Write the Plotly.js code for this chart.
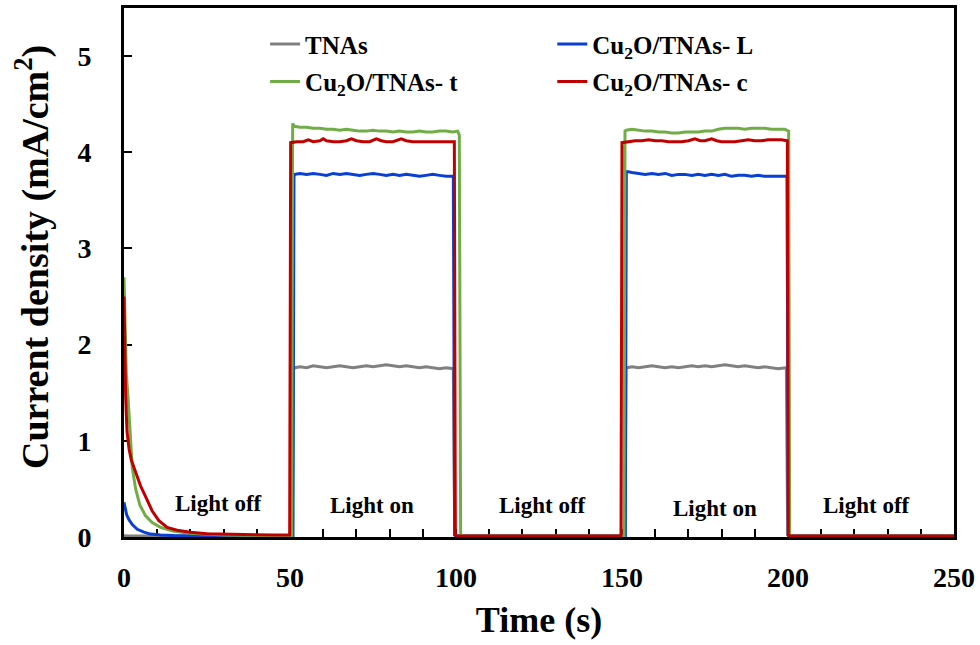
<!DOCTYPE html>
<html>
<head>
<meta charset="utf-8">
<script src="https://cdn.plot.ly/plotly-3.0.1.min.js"></script>
<style>html,body{margin:0;padding:0;background:#fff;}#chart{width:980px;height:645px;}</style>
</head>
<body>
<div id="chart"></div>
<script>
// ---- Data ----
const seriesNames = ["TNAs", "Cu<sub>2</sub>O/TNAs- L", "Cu<sub>2</sub>O/TNAs- t", "Cu<sub>2</sub>O/TNAs- c"];

const tnasT = [0, 0.5, 5, 20, 35, 50.7,
  51.0, 51.5, 53, 55, 57, 59, 61, 63, 65, 67, 69, 71, 73, 75, 77, 79, 81, 83, 85, 87, 89, 91, 93, 95, 97, 99.2,
  99.6, 100.0, 110, 125, 140, 150.9,
  151.2, 151.5, 153, 155, 157, 159, 161, 163, 165, 167, 169, 171, 173, 175, 177, 179, 181, 183, 185, 187, 189, 191, 193, 195, 197, 199.5,
  199.9, 200.3, 215, 235, 250];
const tnasY = [0.02, 0.01, 0.01, 0.01, 0.01, 0.01,
  1.74, 1.76, 1.77, 1.76, 1.78, 1.77, 1.76, 1.77, 1.78, 1.77, 1.76, 1.77, 1.78, 1.77, 1.78, 1.79, 1.78, 1.77, 1.78, 1.77, 1.76, 1.77, 1.76, 1.75, 1.76, 1.75,
  0.02, 0.01, 0.01, 0.01, 0.01, 0.01,
  1.75, 1.76, 1.77, 1.76, 1.77, 1.78, 1.77, 1.76, 1.77, 1.76, 1.77, 1.78, 1.77, 1.78, 1.77, 1.78, 1.79, 1.78, 1.77, 1.78, 1.77, 1.76, 1.77, 1.76, 1.75, 1.76,
  0.02, 0.01, 0.01, 0.01, 0.01];

const lT = [0, 0.3, 0.8, 1.5, 2.5, 4, 6, 8, 11, 15, 25, 40, 50.9,
  51.2, 51.5, 53, 55, 57, 59, 61, 63, 65, 67, 69, 71, 73, 75, 77, 79, 81, 83, 85, 87, 89, 91, 93, 95, 97, 99.2,
  99.6, 100, 125, 151.0,
  151.3, 151.6, 153, 155, 157, 159, 161, 163, 165, 167, 169, 171, 173, 175, 177, 179, 181, 183, 185, 187, 189, 191, 193, 195, 197, 199.7,
  200.1, 200.5, 225, 250];
const lY = [0.36, 0.30, 0.23, 0.18, 0.13, 0.08, 0.05, 0.03, 0.02, 0.015, 0.01, 0.01, 0.01,
  3.75, 3.77, 3.78, 3.77, 3.78, 3.77, 3.76, 3.78, 3.77, 3.78, 3.77, 3.76, 3.77, 3.78, 3.77, 3.76, 3.77, 3.76, 3.77, 3.76, 3.75, 3.76, 3.77, 3.76, 3.75, 3.75,
  0.02, 0.01, 0.01, 0.01,
  3.79, 3.80, 3.79, 3.78, 3.77, 3.78, 3.77, 3.78, 3.76, 3.77, 3.77, 3.76, 3.77, 3.76, 3.77, 3.76, 3.77, 3.75, 3.76, 3.76, 3.75, 3.76, 3.75, 3.75, 3.75, 3.75,
  0.02, 0.01, 0.01, 0.01];

const tT = [0, 0.3, 0.7, 1.2, 1.8, 2.5, 3.5, 4.8, 6.5, 8.5, 11, 15, 20, 30, 42, 50.5,
  50.8, 51.3, 53, 55, 57, 59, 61, 63, 65, 67, 69, 71, 73, 75, 77, 79, 81, 83, 85, 87, 89, 91, 93, 95, 97, 99, 100.5, 101,
  101.4, 102, 125, 150.6,
  150.9, 151.3, 153, 155, 157, 159, 161, 163, 165, 167, 169, 171, 173, 175, 177, 179, 181, 183, 185, 187, 189, 191, 193, 195, 197, 199, 200.2,
  200.5, 201, 225, 250];
const tY = [2.70, 2.10, 1.70, 1.46, 1.10, 0.72, 0.50, 0.33, 0.22, 0.15, 0.10, 0.06, 0.04, 0.02, 0.015, 0.01,
  4.30, 4.27, 4.26, 4.26, 4.25, 4.25, 4.24, 4.24, 4.23, 4.24, 4.23, 4.22, 4.22, 4.23, 4.22, 4.22, 4.21, 4.22, 4.21, 4.21, 4.22, 4.21, 4.21, 4.22, 4.22, 4.21, 4.22, 4.18,
  0.02, 0.01, 0.01, 0.01,
  4.22, 4.23, 4.24, 4.23, 4.22, 4.22, 4.21, 4.21, 4.20, 4.20, 4.21, 4.21, 4.21, 4.22, 4.22, 4.24, 4.25, 4.25, 4.25, 4.24, 4.25, 4.25, 4.25, 4.24, 4.24, 4.24, 4.22,
  0.02, 0.01, 0.01, 0.01];

const cT = [0, 0.2, 0.5, 0.9, 1.5, 2.2, 3.0, 4.0, 5.0, 6.5, 8.5, 10.5, 13, 16, 20, 25, 30, 38, 45, 49.9,
  50.2, 52, 54, 55.5, 57, 59, 60, 61, 63, 65, 67, 68.5, 70, 72, 74, 76, 77.5, 79, 81, 83.5, 85, 87, 89, 91, 93, 95, 97, 99.5,
  99.8, 100.3, 125, 149.7,
  150.0, 152, 154, 156, 158, 160, 162, 164, 166, 168, 170, 172, 173.5, 175, 177, 178.5, 180, 182, 184, 186, 188, 190, 192, 194, 196, 198, 199.8,
  200.1, 200.6, 225, 250];
const cY = [2.50, 1.90, 1.45, 1.10, 0.92, 0.80, 0.72, 0.62, 0.53, 0.42, 0.27, 0.17, 0.10, 0.07, 0.05, 0.035, 0.03, 0.025, 0.02, 0.02,
  4.10, 4.11, 4.11, 4.13, 4.11, 4.12, 4.14, 4.12, 4.11, 4.11, 4.12, 4.14, 4.12, 4.11, 4.11, 4.14, 4.12, 4.11, 4.11, 4.14, 4.12, 4.11, 4.11, 4.11, 4.11, 4.11, 4.11, 4.11,
  0.02, 0.01, 0.01, 0.01,
  4.10, 4.11, 4.12, 4.12, 4.13, 4.12, 4.12, 4.11, 4.11, 4.11, 4.12, 4.14, 4.12, 4.12, 4.14, 4.12, 4.11, 4.11, 4.11, 4.12, 4.13, 4.12, 4.12, 4.13, 4.13, 4.13, 4.12,
  0.02, 0.01, 0.01, 0.01];

const labelTexts = ["Light off", "Light on", "Light off", "Light on", "Light off"];
const labelX = [28.6, 74.7, 126.2, 178, 223.5];
const labelY = [0.35, 0.33, 0.33, 0.30, 0.33];

const xTickVals = [0, 50, 100, 150, 200, 250];
const yTickVals = [0, 1, 2, 3, 4, 5];

const xTitle = "Time (s)";
const yTitle = "Current density (mA/cm<sup>2</sup>)";

// ---- Chart ----
const FONT = "'Liberation Serif', 'Times New Roman', serif";
const colors = ["#808080", "#0a3fd4", "#70ad47", "#c00000"];
const xs = [tnasT, lT, tT, cT];
const ys = [tnasY, lY, tY, cY];
const legends = ["legend", "legend2", "legend", "legend2"];

const traces = xs.map((x, i) => ({
  x: x, y: ys[i], type: "scatter", mode: "lines",
  name: seriesNames[i],
  line: {color: colors[i], width: 3},
  legend: legends[i],
  legendgroup: "g" + i,
  hoverinfo: "skip"
}));

const legendCommon = {
  font: {family: FONT, size: 25, color: "#000", weight: "bold"},
  bgcolor: "rgba(0,0,0,0)",
  xanchor: "left", yanchor: "top",
  tracegroupgap: 2,
  orientation: "v"
};

const annotations = labelTexts.map((t, i) => ({
  text: t, x: labelX[i], y: labelY[i], xref: "x", yref: "y",
  showarrow: false, xanchor: "center", yanchor: "middle",
  font: {family: FONT, size: 23, color: "#000", weight: "bold"}
}));
annotations.push({
  text: yTitle, xref: "paper", yref: "paper", x: -0.111, y: 0.529,
  textangle: -90, showarrow: false, xanchor: "center", yanchor: "middle",
  font: {family: FONT, size: 38, color: "#000", weight: "bold"}
});

const layout = {
  width: 980, height: 645,
  margin: {l: 124, r: 26, t: 8, b: 108},
  paper_bgcolor: "#fff", plot_bgcolor: "#fff",
  font: {family: FONT, color: "#000"},
  showlegend: true,
  legend: Object.assign({x: 0.17, y: 0.975}, legendCommon),
  legend2: Object.assign({x: 0.516, y: 0.975}, legendCommon),
  xaxis: {
    range: [0, 250], tickvals: xTickVals, ticktext: xTickVals.map(String),
    ticks: "inside", ticklen: 8, tickwidth: 2, tickcolor: "#000",
    minor: {dtick: 10, tick0: 0, ticks: "inside", ticklen: 8, tickwidth: 2, tickcolor: "#000"},
    showline: true, linewidth: 3, linecolor: "#000", mirror: true,
    showgrid: false, zeroline: false, layer: "below traces",
    tickfont: {family: FONT, size: 28, color: "#000", weight: "bold"},
    ticklabelstandoff: 13,
    title: {text: xTitle, font: {family: FONT, size: 36, color: "#000", weight: "bold"}, standoff: 16}
  },
  yaxis: {
    range: [0, 5.5], tickvals: yTickVals, ticktext: yTickVals.map(String),
    ticks: "inside", ticklen: 8, tickwidth: 2, tickcolor: "#000",
    showline: true, linewidth: 3, linecolor: "#000", mirror: true,
    showgrid: false, zeroline: false, layer: "below traces",
    tickfont: {family: FONT, size: 28, color: "#000", weight: "bold"},
    ticklabelstandoff: 24
  },
  annotations: annotations
};

Plotly.newPlot("chart", traces, layout, {displayModeBar: false, staticPlot: true});
</script>
</body>
</html>
